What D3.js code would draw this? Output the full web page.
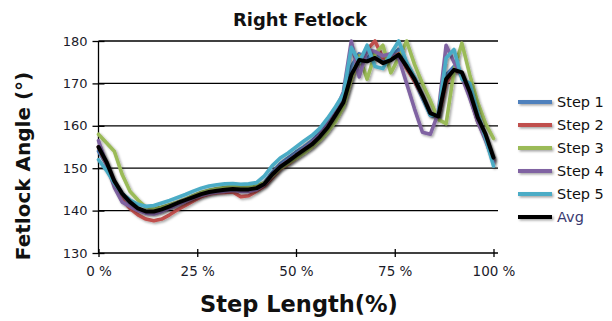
<!DOCTYPE html>
<html><head><meta charset="utf-8">
<script src="https://cdn.jsdelivr.net/npm/d3@7"></script>
<style>body{margin:0;background:#fff}svg{display:block}</style>
</head><body>
<svg id="c" width="612" height="321"></svg>
<script>
const pct = [0,2,4,6,8,10,12,14,16,18,20,22,24,26,28,30,32,34,36,38,40,42,44,46,48,50,52,54,56,58,60,62,64,66,68,70,72,74,76,78,80,82,84,86,88,90,92,94,96,98,100];
const step1 = [154,151,146.5,143.5,141.5,140.2,139.5,139.6,140,140.8,141.6,142.4,143.2,144,144.5,144.8,145,145.2,145.1,145,145.4,146.6,149,151,152.4,153.8,155,156.4,158.4,160.8,164,167,174,177,176,177.5,175.5,176.5,178,174,170.5,166.5,162.5,162,172,174,172,167,161,157,152];
const step2 = [155,151,146,142.5,140.5,139,138,137.6,138,139,140.2,141.2,142.3,143.3,143.9,144.2,144.3,144.4,143.3,143.5,144.6,145.8,147.8,149.8,151,152.4,153.8,155,156.8,159,162,165,171,176,178,180,176,176,177,173.5,170.5,167,163,162,170,173,172.5,167,161,157,152];
const step3 = [158,156,154,148.5,144.5,142.5,140.8,140.5,140.8,141.4,142,142.7,143.5,144.3,144.8,145.2,145.5,145.8,145.6,145.7,145.9,146.5,148.2,150,151.2,152.4,153.6,155,156.6,158.6,161,164.5,171,176.5,171,177,179,172.5,176,180,174.5,170,166,161.5,160.5,173,179.5,172,165.5,160.5,157];
const step4 = [156.5,151,145.5,142,141,140,139.4,139.2,139.8,140.6,141.4,142.2,143,143.6,144.1,144.4,144.6,144.8,144.5,144.5,145,146.2,148.5,150.5,151.8,153.2,154.6,156,158,160.5,163.5,168,180,171.5,178,177.5,176.5,177,176,170,164,158.5,158,163,179,175,171.5,166.5,161,156.5,151.5];
const step5 = [152,149.5,146.5,144,142.5,141.5,141,141.2,141.8,142.4,143.1,143.8,144.6,145.3,145.8,146.1,146.3,146.4,146.2,146.3,146.6,148.2,150.6,152.4,153.6,155,156.4,157.7,159.4,161.8,164.5,167.5,178.5,175,179,174,173.5,177,180,175,171.5,167,162.5,162.5,176,178,171,170,163,157,150.5];
const avg = [155,151.5,147,144,142,140.5,139.8,139.8,140.3,141,141.8,142.5,143.2,143.9,144.4,144.7,144.9,145.1,145,145,145.3,146.3,148.5,150.3,151.6,153,154.3,155.6,157.4,159.6,162.5,165.5,172,175.5,175.2,176,174.8,175.5,176.8,174,171,167.2,163,162.2,171,173.2,172.6,168,162,158,152.5];
const seriesNames = ["Step 1","Step 2","Step 3","Step 4","Step 5","Avg"];
const seriesColors = ["#4F81BD","#C0504D","#9BBB59","#8064A2","#4BACC6","#000000"];
const yTicks = [130,140,150,160,170,180];
const xTicks = [0,25,50,75,100];

const svg = d3.select("#c");
const defs = svg.append("defs");
const f = defs.append("filter").attr("id","sh").attr("filterUnits","userSpaceOnUse")
  .attr("x",0).attr("y",0).attr("width",612).attr("height",321);
f.append("feDropShadow").attr("dx",1.5).attr("dy",1.5).attr("stdDeviation",0.9).attr("flood-color","#000").attr("flood-opacity",0.35);
defs.append("clipPath").attr("id","cp").append("rect").attr("x",90).attr("y",39).attr("width",420).attr("height",216);

const x = d3.scaleLinear().domain([0,100]).range([98.5,493.5]);
const y = d3.scaleLinear().domain([130,180]).range([253,41]);

// grid
svg.append("g").selectAll("line").data(yTicks.filter(v=>v>130)).join("line")
  .attr("x1",98.5).attr("x2",498).attr("y1",d=>y(d)).attr("y2",d=>y(d))
  .attr("stroke","#000").attr("stroke-width",1.3);

// y axis
const ya = svg.append("g").attr("transform","translate(98.5,0)")
  .call(d3.axisLeft(y).tickValues(yTicks).tickSize(6).tickPadding(6).tickFormat(d3.format("d")));
ya.select(".domain").attr("stroke","#000").attr("stroke-width",1.3).attr("d","M0,41V253");
ya.selectAll(".tick line").attr("x1",6).attr("stroke-width",1.3);
ya.selectAll(".tick text").attr("font-family","DejaVu Sans").attr("font-size",13).attr("fill","#1b1b2a").attr("x",-11);

// x axis
const xa = svg.append("g").attr("transform","translate(0,253)")
  .call(d3.axisBottom(x).tickValues(xTicks).tickSize(4).tickPadding(9).tickFormat(d=>d+" %"));
xa.select(".domain").attr("stroke","#000").attr("stroke-width",1.3).attr("d","M98.5,0H498");
xa.selectAll(".tick line").attr("y1",-4).attr("stroke-width",1.3);
xa.selectAll(".tick text").attr("font-family","DejaVu Sans").attr("font-size",13.5).attr("fill","#1b1b2a");

// lines
const all = [step1,step2,step3,step4,step5,avg];
const line = d3.line().x((d,i)=>x(pct[i])).y(d=>y(d)).curve(d3.curveLinear);
const lg = svg.append("g").attr("clip-path","url(#cp)");
all.forEach((s,k)=>{
  lg.append("path").attr("d",line(s)).attr("fill","none")
    .attr("stroke",seriesColors[k]).attr("stroke-width",k===5?4:3.6)
    .attr("stroke-linejoin","round").attr("stroke-linecap","round")
    .attr("filter","url(#sh)");
});

// legend
const leg = svg.append("g");
seriesNames.forEach((n,k)=>{
  const yy = 102 + k*23;
  leg.append("line").attr("x1",518).attr("x2",552).attr("y1",yy).attr("y2",yy)
    .attr("stroke",seriesColors[k]).attr("stroke-width",3.8).attr("filter","url(#sh)");
  leg.append("text").attr("x",557).attr("y",yy+5).text(n)
    .attr("font-family","DejaVu Sans").attr("font-size",14.5)
    .attr("fill",k===5?"#3a3a70":"#111");
});

// titles
svg.append("text").attr("x",300).attr("y",26).attr("text-anchor","middle")
  .attr("font-family","DejaVu Sans").attr("font-weight","bold").attr("font-size",18)
  .attr("fill","#111").text("Right Fetlock");
svg.append("text").attr("x",299).attr("y",312).attr("text-anchor","middle")
  .attr("font-family","DejaVu Sans").attr("font-weight","bold").attr("font-size",22.5)
  .attr("fill","#111").text("Step Length(%)");
svg.append("text").attr("transform","translate(30,166) rotate(-90)").attr("text-anchor","middle")
  .attr("font-family","DejaVu Sans").attr("font-weight","bold").attr("font-size",20)
  .attr("fill","#111").text("Fetlock Angle (°)");
</script>
</body></html>
